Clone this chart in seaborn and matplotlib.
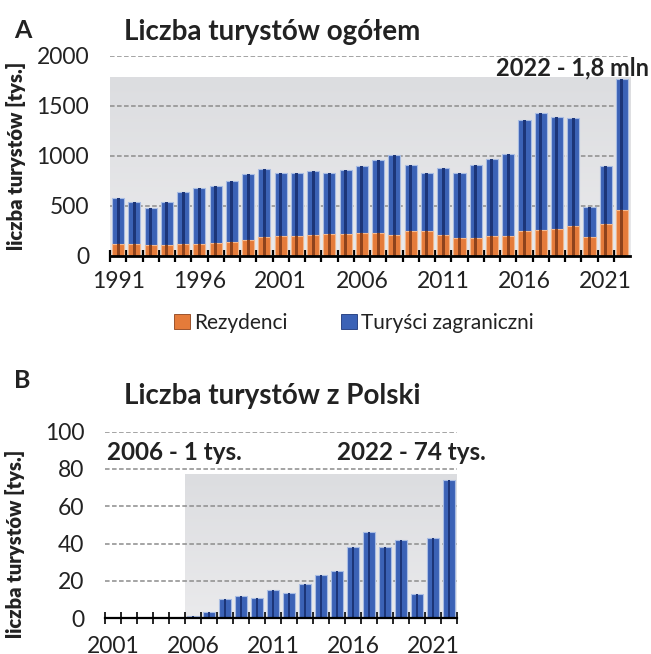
import matplotlib
matplotlib.use("Agg")
import matplotlib.pyplot as plt
from matplotlib.patches import Patch
from matplotlib.colors import LinearSegmentedColormap
import seaborn as sns
import numpy as np
import pandas as pd

# ---------------- dane ----------------
lata_a = [str(r) for r in range(1991, 2023)]
rezydenci = [115, 115, 110, 110, 115, 120, 125, 135, 160, 190, 200, 200, 210, 215, 220, 230,
             230, 210, 245, 250, 210, 175, 180, 195, 200, 250, 260, 270, 295, 185, 320, 460]
zagraniczni = [460, 421, 370, 433, 527, 555, 577, 617, 664, 678, 634, 628, 641, 619, 638, 671,
               727, 800, 662, 584, 674, 659, 731, 772, 820, 1114, 1170, 1121, 1086, 308, 584, 1308]
etykiety_a = ["1991", "1996", "2001", "2006", "2011", "2016", "2021"]
ticks_y_a = [0, 500, 1000, 1500, 2000]

lata_b = [str(r) for r in range(2001, 2023)]
z_polski = [0, 0, 0, 0, 0, 1, 3, 10, 12, 11, 15, 13.5, 18, 23, 25, 38, 46, 38, 42, 13, 43, 74]
etykiety_b = ["2001", "2006", "2011", "2016", "2021"]
ticks_y_b = [0, 20, 40, 60, 80, 100]

BLUE = "#3b62b6"
BLUE_DARK = "#1c3578"
ORANGE = "#e57b3a"
ORANGE_DARK = "#8e431c"

sns.set_theme(style="white")
plt.rcParams["font.family"] = ["Lato", "DejaVu Sans"]
plt.rcParams["text.color"] = "#222222"

df_a = pd.DataFrame({"rok": lata_a, "rezydenci": rezydenci, "zagraniczni": zagraniczni})
df_a["razem"] = df_a["rezydenci"] + df_a["zagraniczni"]
df_b = pd.DataFrame({"rok": lata_b, "polska": z_polski})

fig = plt.figure(figsize=(6.51, 6.54), dpi=100)
ax_a = fig.add_axes([0.169, 0.6086, 0.7988, 0.3058])
ax_b = fig.add_axes([0.1613, 0.055, 0.5407, 0.2849])

bg = LinearSegmentedColormap.from_list("bg", ["#eaeaec", "#dcdde0"])
grad = np.linspace(0, 1, 100).reshape(-1, 1)


def styl_osi(ax, n, etykiety, lata, yticks, spine_w, tick_w, xpad, last_tick):
    ax.set_xticks([lata.index(e) for e in etykiety])
    ax.set_xticklabels(etykiety)
    ax.set_xticks(np.arange(-0.5, n - 0.5 + (0.5 if last_tick else 0), 1), minor=True)
    ax.tick_params(axis="x", which="major", length=0, pad=xpad, labelsize=16.5, labelcolor="#222222")
    ax.tick_params(axis="x", which="minor", length=9, width=tick_w, direction="inout",
                   color="black", bottom=True)
    ax.set_yticks(yticks)
    ax.tick_params(axis="y", length=0, pad=15, labelsize=16.5, labelcolor="#222222")
    ax.grid(axis="y", linestyle=(0, (3, 1.6)), color="#8c8c8c", linewidth=1.1)
    ax.grid(axis="x", visible=False)
    ax.set_axisbelow(True)
    for s in ["left", "right", "top"]:
        ax.spines[s].set_visible(False)
    ax.spines["bottom"].set_color("black")
    ax.spines["bottom"].set_linewidth(spine_w)
    ax.spines["bottom"].set_zorder(5)
    ax.set_xlabel("")
    ax.set_xlim(-0.5, n - 0.5)


# ---------------- panel A ----------------
ax_a.imshow(grad, extent=[-0.5, 31.5, 0, 1790], origin="lower", aspect="auto", cmap=bg, zorder=0)
sns.barplot(data=df_a, x="rok", y="razem", color=BLUE, saturation=1, width=0.75,
            edgecolor="#a9bde3", linewidth=0.8, errorbar=None, ax=ax_a, zorder=2)
sns.barplot(data=df_a, x="rok", y="razem", color=BLUE_DARK, saturation=1, width=0.18,
            linewidth=0, errorbar=None, ax=ax_a, zorder=3)
sns.barplot(data=df_a, x="rok", y="rezydenci", color=ORANGE, saturation=1, width=0.75,
            edgecolor="#f3b98f", linewidth=0.8, errorbar=None, ax=ax_a, zorder=4)
sns.barplot(data=df_a, x="rok", y="rezydenci", color=ORANGE_DARK, saturation=1, width=0.18,
            linewidth=0, errorbar=None, ax=ax_a, zorder=4)
styl_osi(ax_a, len(lata_a), etykiety_a, lata_a, ticks_y_a, 2.0, 1.6, 11, False)
ax_a.set_ylim(0, 2000)
ax_a.set_ylabel("liczba turystów [tys.]", fontsize=14.5, fontweight="heavy", color="#222222")
ax_a.yaxis.set_label_coords(-0.162, 0.5)

# ---------------- panel B ----------------
ax_b.imshow(grad, extent=[4.5, 21.5, 0, 77], origin="lower", aspect="auto", cmap=bg, zorder=0)
sns.barplot(data=df_b, x="rok", y="polska", color=BLUE, saturation=1, width=0.75,
            edgecolor="#a9bde3", linewidth=0.8, errorbar=None, ax=ax_b, zorder=2)
sns.barplot(data=df_b, x="rok", y="polska", color=BLUE_DARK, saturation=1, width=0.18,
            linewidth=0, errorbar=None, ax=ax_b, zorder=3)
styl_osi(ax_b, len(lata_b), etykiety_b, lata_b, ticks_y_b, 1.6, 1.2, 13, True)
ax_b.set_ylim(0, 100)
ax_b.set_ylabel("liczba turystów [tys.]", fontsize=14.5, fontweight="heavy", color="#222222")
ax_b.yaxis.set_label_coords(-0.226, 0.40)

# ---------------- teksty ----------------
fig.text(14 / 651, 1 - 30 / 654, "A", fontsize=18, fontweight="bold", va="center")
fig.text(124 / 651, 1 - 32 / 654, "Liczba turystów ogółem", fontsize=20, fontweight="bold", va="center")
fig.text(649 / 651, 1 - 68 / 654, "2022 - 1,8 mln", fontsize=17, fontweight="bold",
         va="center", ha="right")

fig.text(14 / 651, 1 - 380 / 654, "B", fontsize=18, fontweight="bold", va="center")
fig.text(124 / 651, 1 - 396 / 654, "Liczba turystów z Polski", fontsize=20, fontweight="bold", va="center")
fig.text(107 / 651, 1 - 452 / 654, "2006 - 1 tys.", fontsize=17.5, fontweight="bold", va="center")
fig.text(337 / 651, 1 - 452 / 654, "2022 - 74 tys.", fontsize=17.5, fontweight="bold", va="center")

uchwyty = [Patch(facecolor=ORANGE, edgecolor=ORANGE_DARK, linewidth=0.6),
           Patch(facecolor=BLUE, edgecolor=BLUE_DARK, linewidth=0.6)]
fig.legend(uchwyty, ["Rezydenci", "Turyści zagraniczni"], loc="center",
           bbox_to_anchor=(354 / 651, 1 - 323 / 654), ncol=2, frameon=False, fontsize=15,
           handlelength=0.75, handleheight=0.75, handletextpad=0.2, columnspacing=2.6)

fig.savefig("out.png", dpi=100)
